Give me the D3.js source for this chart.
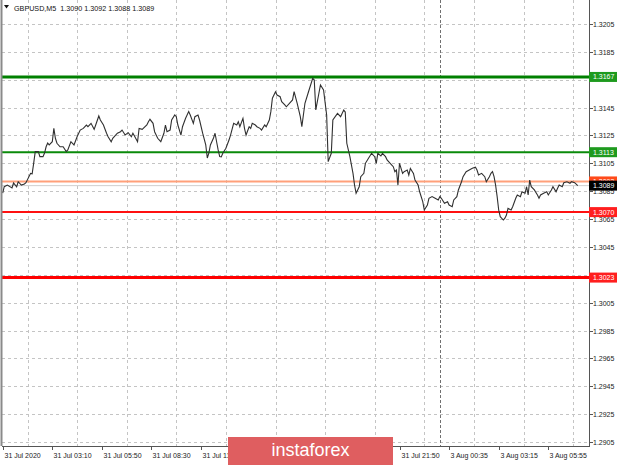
<!DOCTYPE html>
<html><head><meta charset="utf-8">
<script src="https://cdn.jsdelivr.net/npm/d3@7"></script>
<style>
body{margin:0;background:#fff}
svg{display:block}
text{font-family:"Liberation Sans",Arial,sans-serif}
</style>
</head><body>
<svg id="c" width="620" height="465"></svg>
<script>
const symbolTitle = "GBPUSD,M5";
const ohlc = [1.3090, 1.3092, 1.3088, 1.3089];
const priceTicks = [1.2905,1.2925,1.2945,1.2965,1.2985,1.3005,1.3025,1.3045,1.3065,1.3085,1.3105,1.3125,1.3145,1.3165,1.3185,1.3205];
const timeTickBars = [0,32,64,96,128,160,192,224,256,288,320,352];
const timeTickLabels = ["31 Jul 2020","31 Jul 03:10","31 Jul 05:50","31 Jul 08:30","31 Jul 11:10","31 Jul 13:50","31 Jul 16:30","31 Jul 19:10","31 Jul 21:50","3 Aug 00:35","3 Aug 03:15","3 Aug 05:55"];
const gridBars = [16,48,80,112,144,176,208,240,272,304,336,368];
const separatorBar = 282;
const bars = [0,1,3,6,7,9,10,12,14,15,18,19,20,21,23,24,26,27,28,29,30,32,33,34,35,37,39,41,42,44,46,48,50,52,54,55,57,59,60,62,63,65,67,68,70,71,74,76,77,79,81,83,84,85,87,88,90,93,94,95,97,98,100,102,104,105,106,108,109,111,112,113,115,116,118,120,121,123,124,126,127,129,131,132,133,134,136,137,138,139,140,141,142,144,146,147,149,151,152,153,155,156,157,159,160,161,163,164,166,167,169,170,172,173,174,176,177,179,180,182,183,187,188,190,192,193,195,197,200,201,202,204,205,207,209,210,212,213,216,218,220,221,222,224,226,227,228,230,231,233,234,236,238,240,241,242,244,245,247,248,250,252,253,254,255,256,258,259,261,262,263,265,266,268,269,271,272,274,275,277,279,281,282,283,285,287,288,290,291,293,294,296,297,299,301,303,305,306,307,309,311,312,314,315,316,317,318,319,320,321,323,324,325,326,328,329,331,332,334,335,337,338,339,340,341,343,345,346,347,349,351,352,354,355,357,358,359,361,362,364,366,367,369,371];
const closes = [1.30837,1.30882,1.30894,1.30873,1.30909,1.30882,1.30918,1.30894,1.30902,1.30911,1.30978,1.30975,1.31052,1.31134,1.31134,1.31098,1.31098,1.31124,1.31169,1.31196,1.31182,1.31205,1.31301,1.31230,1.31194,1.31169,1.31169,1.31134,1.31146,1.31205,1.31182,1.31241,1.31289,1.31301,1.31325,1.31313,1.31337,1.31294,1.31325,1.31390,1.31361,1.31325,1.31266,1.31241,1.31205,1.31230,1.31266,1.31277,1.31289,1.31253,1.31270,1.31241,1.31266,1.31246,1.31205,1.31301,1.31294,1.31325,1.31349,1.31366,1.31337,1.31277,1.31230,1.31205,1.31266,1.31325,1.31277,1.31289,1.31361,1.31397,1.31385,1.31325,1.31253,1.31313,1.31373,1.31421,1.31397,1.31337,1.31385,1.31397,1.31361,1.31266,1.31182,1.31088,1.31124,1.31182,1.31232,1.31266,1.31205,1.31146,1.31098,1.31096,1.31122,1.31158,1.31217,1.31253,1.31337,1.31325,1.31349,1.31313,1.31373,1.31301,1.31253,1.31313,1.31301,1.31337,1.31325,1.31313,1.31301,1.31289,1.31325,1.31313,1.31361,1.31421,1.31517,1.31564,1.31540,1.31528,1.31492,1.31469,1.31456,1.31505,1.31564,1.31481,1.31385,1.31313,1.31481,1.31553,1.31660,1.31648,1.31433,1.31553,1.31612,1.31576,1.31397,1.31062,1.31122,1.31361,1.31409,1.31385,1.31433,1.31418,1.31194,1.31098,1.30978,1.30894,1.30835,1.30882,1.30954,1.30978,1.31050,1.31086,1.31122,1.31098,1.31050,1.31122,1.31103,1.31122,1.31098,1.31074,1.31050,1.31026,1.30990,1.31002,1.30894,1.31050,1.30978,1.30990,1.31002,1.30966,1.31014,1.30978,1.30930,1.30894,1.30846,1.30775,1.30715,1.30751,1.30799,1.30811,1.30799,1.30787,1.30811,1.30799,1.30763,1.30775,1.30751,1.30739,1.30787,1.30811,1.30859,1.30918,1.30954,1.30990,1.31002,1.31014,1.31022,1.31002,1.30966,1.30978,1.30954,1.30918,1.30954,1.30978,1.30990,1.30954,1.30894,1.30811,1.30715,1.30667,1.30643,1.30656,1.30679,1.30727,1.30715,1.30739,1.30799,1.30823,1.30811,1.30846,1.30835,1.30882,1.30823,1.30930,1.30882,1.30859,1.30823,1.30799,1.30823,1.30835,1.30846,1.30823,1.30859,1.30882,1.30846,1.30871,1.30894,1.30882,1.30911,1.30918,1.30907,1.30918,1.30911,1.30890];
const levelPrices = [1.3167, 1.3113, 1.3070, 1.3023];
const askPrice = 1.3092;
const bidPrice = 1.3089;
const logoText = "instaforex";

const levelStyle = [
  {line:"#008000", w:3, box:"#1e9a1e"},
  {line:"#0a8a0a", w:2, box:"#1e9a1e"},
  {line:"#ff1010", w:2, box:"#ff1f1f"},
  {line:"#ff0000", w:3, box:"#ff1f1f"}
];

const svg = d3.select("#c");
const L = 2, R = 589, B = 446, T = 0;
const logoX0 = 228, logoX1 = 393;
const x = d3.scaleLinear().domain([0, 352]).range([2.7, 548.3]);
const y = d3.scaleLinear().domain([1.2905, 1.3205]).range([442, 24]);
const fmt = d3.format(".4f");

svg.append("rect").attr("width",620).attr("height",465).attr("fill","#fff");
svg.append("defs").append("clipPath").attr("id","leftOfLogo")
  .append("rect").attr("x",0).attr("y",440).attr("width",logoX0).attr("height",25);

// grid
const g = svg.append("g");
g.selectAll(".hg").data(priceTicks).enter().append("line")
  .attr("x1",L).attr("x2",R).attr("y1",d=>Math.round(y(d))+0.5).attr("y2",d=>Math.round(y(d))+0.5)
  .attr("stroke","#c4c4c4").attr("stroke-width",1).attr("stroke-dasharray","3,3");
g.selectAll(".vg").data(gridBars).enter().append("line")
  .attr("x1",d=>Math.round(x(d))+0.5).attr("x2",d=>Math.round(x(d))+0.5).attr("y1",T).attr("y2",B)
  .attr("stroke","#c4c4c4").attr("stroke-width",1).attr("stroke-dasharray","3,3");
g.append("line").attr("x1",Math.round(x(separatorBar))+0.5).attr("x2",Math.round(x(separatorBar))+0.5)
  .attr("y1",T).attr("y2",B).attr("stroke","#707070").attr("stroke-dasharray","3,2");

g.append("line").attr("x1",L).attr("x2",R).attr("y1",y(bidPrice)).attr("y2",y(bidPrice))
  .attr("stroke","#cfcfcf").attr("stroke-width",1);
g.append("line").attr("x1",L).attr("x2",R).attr("y1",y(askPrice)).attr("y2",y(askPrice))
  .attr("stroke","#ffa07a").attr("stroke-width",2);

g.selectAll(".lv").data(levelPrices).enter().append("line")
  .attr("x1",L).attr("x2",R).attr("y1",d=>y(d)).attr("y2",d=>y(d))
  .attr("stroke",(d,i)=>levelStyle[i].line).attr("stroke-width",(d,i)=>levelStyle[i].w);

// price line
const pts = bars.map((b,i)=>[b, closes[i]]);
svg.append("path").datum(pts)
  .attr("d", d3.line().x(d=>x(d[0])).y(d=>y(d[1])))
  .attr("fill","none").attr("stroke","#303030").attr("stroke-width",1.1);

// frame
svg.append("line").attr("x1",1.5).attr("x2",1.5).attr("y1",T).attr("y2",B).attr("stroke","#8a8a8a").attr("stroke-width",2);
svg.append("line").attr("x1",R+0.5).attr("x2",R+0.5).attr("y1",T).attr("y2",B+1).attr("stroke","#555").attr("stroke-width",1);
svg.append("line").attr("x1",L).attr("x2",R+1).attr("y1",B+0.5).attr("y2",B+0.5).attr("stroke","#555").attr("stroke-width",1);

// right axis (labels hidden under a price tag are not drawn)
const tagPrices = levelPrices.concat([askPrice, bidPrice]);
const ay = svg.append("g");
priceTicks.forEach(p=>{
  const yy = Math.round(y(p))+0.5;
  ay.append("line").attr("x1",R).attr("x2",R+4).attr("y1",yy).attr("y2",yy).attr("stroke","#555");
  const hidden = tagPrices.some(t=>Math.abs(y(t)-y(p))<3.5);
  if(!hidden) ay.append("text").attr("x",R+4).attr("y",yy).attr("dy","0.35em").attr("font-size",7).attr("fill","#222").text(fmt(p));
});

// bottom axis (labels covered by the logo are not drawn; the one it cuts is clipped)
const ax = svg.append("g");
timeTickBars.forEach((b,i)=>{
  const xx = Math.round(x(b))+0.5;
  ax.append("line").attr("x1",xx).attr("x2",xx).attr("y1",B).attr("y2",B+4).attr("stroke","#555");
  if(xx > logoX0 && xx < logoX1) return;
  const t = ax.append("text").attr("x",xx+1).attr("y",457.5).attr("font-size",7).attr("fill","#222").text(timeTickLabels[i]);
  if(xx < logoX0 && xx + 40 > logoX0) t.attr("clip-path","url(#leftOfLogo)");
});

function tag(price, fill){
  const yy = y(price);
  ay.append("rect").attr("x",R).attr("y",yy-5).attr("width",28).attr("height",10).attr("fill",fill);
  ay.append("text").attr("x",R+4).attr("y",yy).attr("dy","0.35em").attr("font-size",7).attr("fill","#fff").text(fmt(price));
}
levelPrices.forEach((p,i)=>tag(p, levelStyle[i].box));
tag(askPrice, "#ff4a1a");
tag(bidPrice, "#000");

// header
svg.append("path").attr("d","M4,5 L9,5 L6.5,8.5 Z").attr("fill","#111");
svg.append("text").attr("x",14).attr("y",10.5).attr("font-size",7.2).attr("fill","#111")
  .attr("xml:space","preserve")
  .text(symbolTitle + "  " + ohlc.map(fmt).join(" "));

// logo
svg.append("rect").attr("x",logoX0).attr("y",437).attr("width",logoX1-logoX0).attr("height",28).attr("fill","#df5e60");
svg.append("text").attr("x",(logoX0+logoX1)/2).attr("y",456).attr("text-anchor","middle")
  .attr("font-family","'Open Sans',sans-serif").attr("font-size",18).attr("fill","#fff").text(logoText);
</script>
</body></html>
